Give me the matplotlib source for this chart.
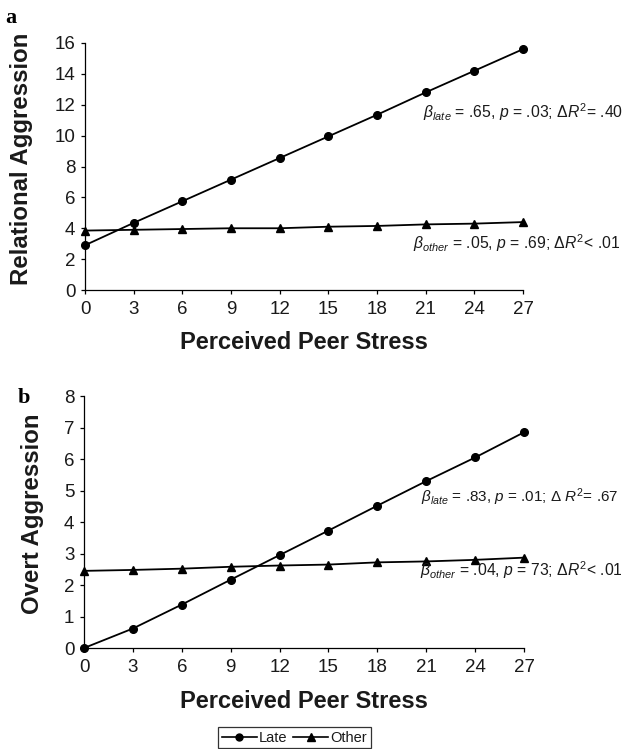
import matplotlib
matplotlib.use('Agg')
import matplotlib.pyplot as plt
from matplotlib.lines import Line2D

plt.rcParams['font.family'] = ['Liberation Sans', 'DejaVu Sans']
plt.rcParams['mathtext.fontset'] = 'custom'
plt.rcParams['mathtext.rm'] = 'Liberation Sans'
plt.rcParams['mathtext.it'] = 'Liberation Sans:italic'
plt.rcParams['mathtext.bf'] = 'Liberation Sans:bold'

# perceived peer stress
stress = [0, 3, 6, 9, 12, 15, 18, 21, 24, 27]

# panel a: relational aggression
rel_late = [2.9, 4.35, 5.75, 7.15, 8.55, 9.95, 11.35, 12.8, 14.2, 15.6]
rel_other = [3.85, 3.9, 3.95, 4.0, 4.0, 4.1, 4.15, 4.25, 4.3, 4.4]

# panel b: overt aggression
ovt_late = [0.0, 0.62, 1.38, 2.17, 2.95, 3.73, 4.52, 5.3, 6.05, 6.85]
ovt_other = [2.45, 2.48, 2.52, 2.58, 2.62, 2.65, 2.72, 2.75, 2.8, 2.87]

ink = '#1a1a1a'

fig = plt.figure(figsize=(6.26, 7.49), dpi=100)
ax1 = fig.add_axes([0.1358, 0.6128, 0.6997, 0.3298])
ax2 = fig.add_axes([0.1342, 0.1348, 0.7029, 0.3364])


def draw(ax, late, other, ymax, ystep, ylabel, ylab_x):
    ax.plot(stress, late, color='black', lw=1.3, marker='o', ms=5.5, clip_on=False, zorder=3)
    ax.plot(stress, other, color='black', lw=1.3, marker='^', ms=6, clip_on=False, zorder=3)
    ax.set_xlim(0, 27)
    ax.set_ylim(0, ymax)
    ax.set_xticks(stress)
    ax.set_yticks(range(0, ymax + 1, ystep))
    for s in ['top', 'right']:
        ax.spines[s].set_visible(False)
    ax.spines['left'].set_linewidth(0.9)
    ax.spines['bottom'].set_linewidth(0.9)
    ax.tick_params(labelsize=13.5, width=0.9, length=3, colors='black', labelcolor=ink)
    ax.tick_params(axis='x', pad=5)
    ax.tick_params(axis='y', pad=4)
    ax.set_xlabel('Perceived Peer Stress', fontsize=17, fontweight='bold', color=ink, va='center')
    ax.set_ylabel(ylabel, fontsize=17.3, fontweight='bold', color=ink, va='center')
    ax.xaxis.set_label_coords(0.5, -0.211)
    ax.yaxis.set_label_coords(ylab_x, 0.532)


draw(ax1, rel_late, rel_other, 16, 2, 'Relational Aggression', -0.144)
draw(ax2, ovt_late, ovt_other, 8, 1, 'Overt Aggression', -0.116)

fs = 11.3
fig.text(423 / 626, 1 - 112 / 749, r'$\beta_{\mathit{late}}$ = .65, $p$ = .03; $\Delta R^2$= .40',
         fontsize=fs, va='center', color=ink)
fig.text(413 / 626, 1 - 243 / 749, r'$\beta_{\mathit{other}}$ = .05, $p$ = .69; $\Delta R^2$< .01',
         fontsize=fs, va='center', color=ink)
fig.text(421 / 626, 1 - 497 / 749, r'$\beta_{\mathit{late}}$ = .83, $p$ = .01; $\Delta\ R^2$= .67',
         fontsize=11, va='center', color=ink)
fig.text(420 / 626, 1 - 570 / 749, r'$\beta_{\mathit{other}}$ = .04, $p$ = 73; $\Delta R^2$< .01',
         fontsize=fs, va='center', color=ink)

fig.text(5 / 626, 1 - 18 / 749, 'a', fontsize=16, fontweight='bold', family='Liberation Serif', va='center')
fig.text(18 / 626, 1 - 398 / 749, 'b', fontsize=16, fontweight='bold', family='Liberation Serif', va='center')

handles = [Line2D([], [], color='black', lw=1.2, marker='o', ms=5),
           Line2D([], [], color='black', lw=1.2, marker='^', ms=5.5)]
leg = fig.legend(handles, ['Late', 'Other'], ncol=2, loc='upper left',
                 bbox_to_anchor=(218 / 626, 1 - 727 / 749), fontsize=10.5,
                 frameon=True, fancybox=False, edgecolor='black', handlelength=2.4,
                 handletextpad=0.15, columnspacing=0.4, borderpad=0.25, borderaxespad=0)
leg.get_frame().set_linewidth(0.9)
for t in leg.get_texts():
    t.set_color(ink)

fig.savefig('out.png', dpi=100)
